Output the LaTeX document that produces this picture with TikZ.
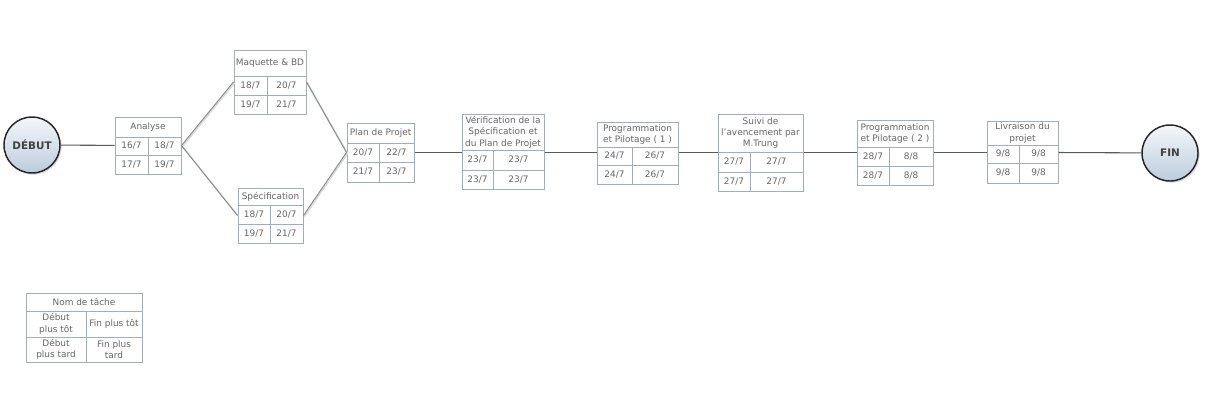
\documentclass[tikz,border=0pt]{standalone}
\usepackage{fontspec}
\setmainfont{DejaVu Sans}
\usetikzlibrary{fit,shadows}
\definecolor{boxc}{HTML}{A3ADB8}
\definecolor{txtc}{HTML}{666666}
\definecolor{linec}{HTML}{5A5A5A}
\definecolor{circtop}{HTML}{F4F7FA}
\definecolor{circbot}{HTML}{BCCCDC}
\tikzset{
 boxframe/.style={draw=boxc, line width=0.75pt, inner sep=0pt},
 cellline/.style={draw=boxc, line width=0.75pt},
 txt/.style={text=txtc, font=\fontsize{6.7pt}{8.6pt}\selectfont, inner sep=0pt, align=center},
 endpoint/.style={circle, draw=black!85, line width=1.1pt, minimum size=42pt, inner sep=0pt,
   top color=circtop, bottom color=circbot, font=\fontsize{7.8pt}{9pt}\selectfont\bfseries, text=black!75,
   drop shadow={opacity=0.3, shadow xshift=1.2pt, shadow yshift=-1.2pt}},
 link/.style={draw=linec, line width=0.8pt},
 diag/.style={draw=black!45, line width=0.75pt},
 diagshade/.style={draw=black!15, line width=1pt},
}
% box: name, x1, y1, x2, y2, ytitle, yrow, xcol, title
\newcommand\tbox[9]{%
  \def\bxa{#2}\def\bya{#3}\def\bxb{#4}\def\byb{#5}\def\byt{#6}\def\byr{#7}\def\bxc{#8}%
  \node[boxframe, fit={(#2,#3)(#4,#5)}] (#1) {};
  \draw[cellline] (#2,#6) -- (#4,#6);
  \draw[cellline] (#2,#7) -- (#4,#7);
  \draw[cellline] (#8,#6) -- (#8,#5);
  \node[txt] (#1-title) at ({(#2+#4)/2},{(#3+#6)/2}) {#9};
}
\newcommand\tdates[5]{%
  \node[txt] (#1-es) at ({(\bxa+\bxc)/2},{(\byt+\byr)/2}) {#2};
  \node[txt] (#1-ef) at ({(\bxc+\bxb)/2},{(\byt+\byr)/2}) {#3};
  \node[txt] (#1-ls) at ({(\bxa+\bxc)/2},{(\byr+\byb)/2}) {#4};
  \node[txt] (#1-lf) at ({(\bxc+\bxb)/2},{(\byr+\byb)/2}) {#5};
}
\begin{document}
\begin{tikzpicture}[x=0.75pt, y=-0.75pt]
\fill[white] (0,0) rectangle (1216,405);
\useasboundingbox (0,0) rectangle (1216,405);

\node[endpoint] (debut) at (32,145) {DÉBUT};
\node[endpoint] (fin) at (1170,153) {FIN};

\tbox{analyse}{115}{117}{181}{174}{137}{155}{148}{Analyse}
\tdates{analyse}{16/7}{18/7}{17/7}{19/7}
\tbox{maq}{234}{50}{306}{114}{76}{95}{267}{Maquette \& BD}
\tdates{maq}{18/7}{20/7}{19/7}{21/7}
\tbox{spec}{238}{188}{303}{243}{205}{224}{270}{Spécification}
\tdates{spec}{18/7}{20/7}{19/7}{21/7}
\tbox{plan}{347}{123}{414}{182}{143}{162}{379}{Plan de Projet}
\tdates{plan}{20/7}{22/7}{21/7}{23/7}
\tbox{verif}{462}{114}{544}{189}{150}{170}{493}{Vérification de la\\Spécification et\\du Plan de Projet}
\tdates{verif}{23/7}{23/7}{23/7}{23/7}
\tbox{progA}{597}{122}{678}{184}{147}{165}{632}{Programmation\\et Pilotage ( 1 )}
\tdates{progA}{24/7}{26/7}{24/7}{26/7}
\tbox{suivi}{718}{114}{803}{191}{152}{172}{750}{Suivi de\\l'avencement par\\M.Trung}
\tdates{suivi}{27/7}{27/7}{27/7}{27/7}
\tbox{progB}{857}{120}{933}{185}{147}{166}{889}{Programmation\\et Pilotage ( 2 )}
\tdates{progB}{28/7}{8/8}{28/7}{8/8}
\tbox{livr}{987}{121}{1058}{183}{145}{163}{1019}{Livraison du\\projet}
\tdates{livr}{9/8}{9/8}{9/8}{9/8}

\tbox{legend}{26}{293}{142}{362}{311}{337}{86}{Nom de tâche}
\tdates{legend}{Début\\plus tôt}{Fin plus tôt}{Début\\plus tard}{Fin plus\\tard}

% connectors
\draw[link] (debut) -- (analyse);
\draw[diagshade] ([shift={(1,1)}]analyse.east) -- ([shift={(1,1)}]maq.west);
\draw[diagshade] ([shift={(1,1)}]analyse.east) -- ([shift={(1,1)}]spec.west);
\draw[diagshade] ([shift={(1,1)}]maq.east) -- ([shift={(1,1)}]plan.west);
\draw[diagshade] ([shift={(1,1)}]spec.east) -- ([shift={(1,1)}]plan.west);
\draw[diag] (analyse.east) -- (maq.west);
\draw[diag] (analyse.east) -- (spec.west);
\draw[diag] (maq.east) -- (plan.west);
\draw[diag] (spec.east) -- (plan.west);
\draw[link] (plan.east) -- (plan.east -| verif.west);
\draw[link] (plan.east -| verif.east) -- (plan.east -| progA.west);
\draw[link] (plan.east -| progA.east) -- (plan.east -| suivi.west);
\draw[link] (plan.east -| suivi.east) -- (plan.east -| progB.west);
\draw[link] (plan.east -| progB.east) -- (plan.east -| livr.west);
\draw[link] (plan.east -| livr.east) -- (fin);
\end{tikzpicture}
\end{document}
